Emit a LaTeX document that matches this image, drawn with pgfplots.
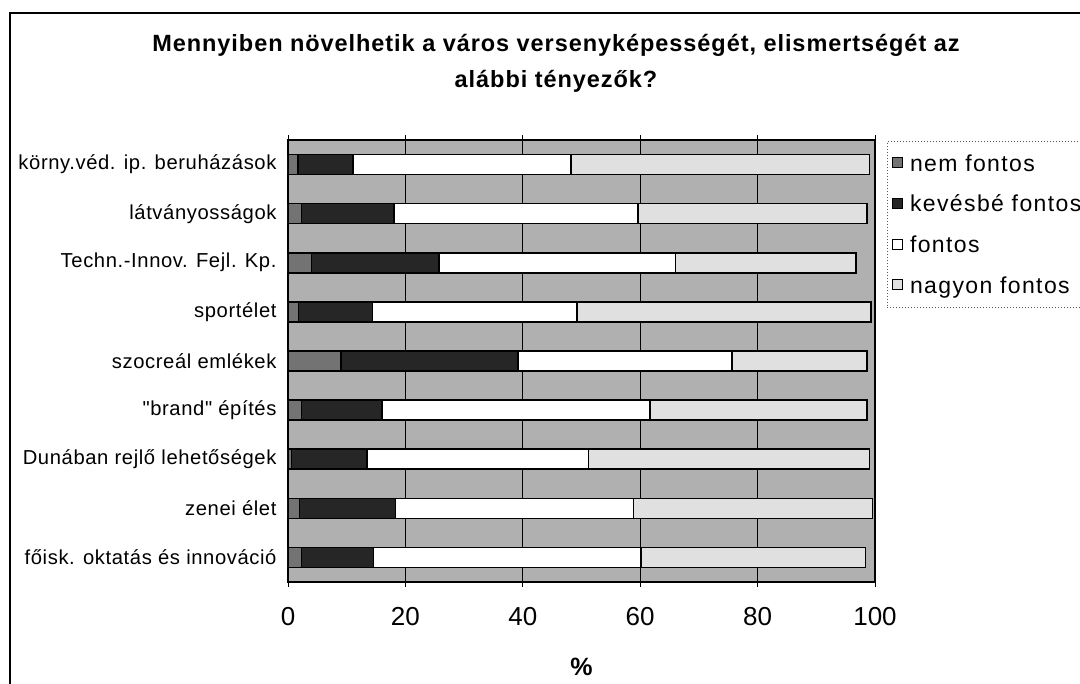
\documentclass[border=0pt]{standalone}
\usepackage{fontspec}
\setmainfont{Liberation Sans}
\newfontfamily\titlefont[LetterSpace=4]{Liberation Sans}
\newfontfamily\lblfont[LetterSpace=3]{Liberation Sans}
\newfontfamily\legfont[LetterSpace=6]{Liberation Sans}
\usepackage{pgfplots}
\usepackage{pgfplotstable}
\pgfplotsset{compat=1.18}
\definecolor{bgg}{RGB}{176,176,176}
\definecolor{nemc}{RGB}{115,115,115}
\definecolor{kevc}{RGB}{38,38,38}
\definecolor{nagyc}{RGB}{224,224,224}
\pgfplotstableread{
idx nem kev fon nagy
0 2.3 12.3 45.5 38.3
1 2.0 16.3 40.6 40.7
2 0.6 12.9 37.7 47.9
3 2.3 13.7 45.7 36.9
4 9.0 30.2 36.4 23.0
5 1.8 12.6 34.8 50.1
6 4.0 21.7 40.3 30.8
7 2.3 15.8 41.5 39.0
8 1.7 9.4 37.1 50.9
}\data
\begin{document}
\begin{tikzpicture}[x=1pt,y=1pt]
\useasboundingbox (0,0) rectangle (1080,684);
\draw[line width=1.3pt] (10,-10) -- (10,671) -- (1095,671);
\node[align=center, font=\titlefont\fontsize{23.5}{36}\selectfont\bfseries] at (556,621) {Mennyiben növelhetik a város versenyképességét, elismertségét az\\alábbi tényezők?};
\begin{axis}[
  at={(288pt,102pt)}, anchor=south west,
  scale only axis, width=587pt, height=442pt,
  xbar stacked, bar width=20pt,
  xmin=0, xmax=100, ymin=-0.5, ymax=8.5,
  axis background/.style={fill=bgg},
  xtick={0,20,...,100},
  /pgf/number format/assume math mode=true,
  xticklabel style={font=\fontsize{26}{29}\selectfont, yshift=-17pt},
  ytick={0,...,8},
  yticklabels={főisk. oktatás és innováció, zenei élet, Dunában rejlő lehetőségek, "brand" építés, szocreál emlékek, sportélet, {Techn.-Innov. Fejl. Kp.}, látványosságok, körny.véd. ip. beruházások},
  yticklabel style={font=\lblfont\fontsize{20.2}{24}\selectfont, xshift=-3pt},
  y tick style={draw=none},
  minor ytick={-0.5,0.5,...,8.5},
  minor y tick style={black, line width=0.8pt},
  minor tick length=4pt,
  tick align=outside,
  major tick length=5pt,
  x tick style={black, line width=0.8pt},
  xmajorgrids, grid style={black, line width=0.9pt},
  axis line style={black, line width=1.2pt},
  xlabel={\textbf{\%}}, xlabel style={font=\fontsize{25}{27}\selectfont, yshift=-25pt},
  legend style={at={(1.02,0.998)}, anchor=north west, draw=gray!70!black, dotted, line width=1pt,
    font=\legfont\fontsize{23}{26}\selectfont, row sep=18.5pt, inner xsep=5pt, inner ysep=11pt, fill=white,
    nodes={solid}, /tikz/every odd column/.append style={column sep=5pt}},
  legend cell align=left,
  legend image code/.code={\draw[#1, solid, line width=0.8pt] (0pt,-4pt) rectangle (10pt,6pt);},
  every axis plot/.append style={draw=black, line width=1.5pt},
]
\addplot[fill=nemc] table[x=nem,y=idx]{\data};
\addplot[fill=kevc] table[x=kev,y=idx]{\data};
\addplot[fill=white] table[x=fon,y=idx]{\data};
\addplot[fill=nagyc] table[x=nagy,y=idx]{\data};
\legend{nem fontos, kevésbé fontos, fontos, nagyon fontos}
\end{axis}
\end{tikzpicture}
\end{document}
